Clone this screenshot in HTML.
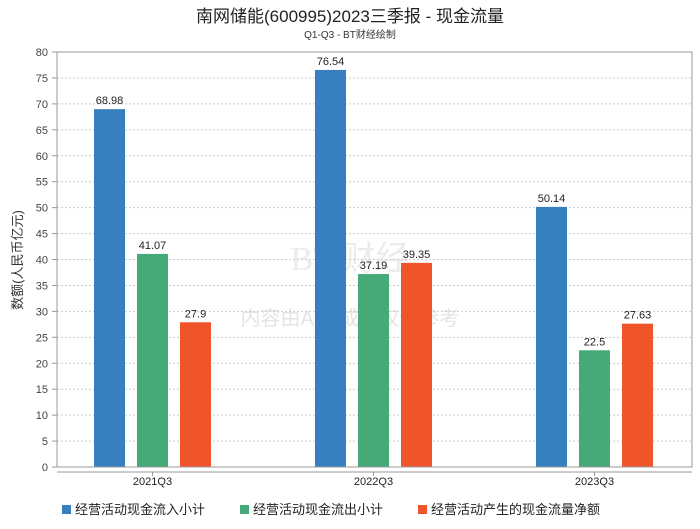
<!DOCTYPE html>
<html><head><meta charset="utf-8"><style>
body{margin:0;background:#fff;width:700px;height:524px;overflow:hidden;font-family:"Liberation Sans","Noto Sans CJK SC",sans-serif}
</style></head><body>
<svg id="chart" width="700" height="524" xmlns="http://www.w3.org/2000/svg" font-family="Liberation Sans, Noto Sans CJK SC, sans-serif">
<text x="350" y="22" text-anchor="middle" font-size="17" fill="#222">南网储能(600995)2023三季报 - 现金流量</text>
<text x="350" y="38" text-anchor="middle" font-size="10" fill="#333">Q1-Q3 - BT财经绘制</text>
<text transform="translate(22,260) rotate(-90)" text-anchor="middle" font-size="13" fill="#333">数额(人民币亿元)</text>
<text x="350" y="325" text-anchor="middle" font-size="20" fill="#e4e4e4">内容由AI生成，仅供参考</text>
<text x="350" y="270" text-anchor="middle" font-size="34" fill="#ececec" font-family="Liberation Serif, serif">BT 财经</text>
<g id="grid"></g><g id="bars"></g><g id="axes"></g>
<g font-size="13" fill="#222">
<rect x="62" y="505" width="9" height="9" fill="#3680c0"/><text x="75" y="514">经营活动现金流入小计</text>
<rect x="240" y="505" width="9" height="9" fill="#45a978"/><text x="253" y="514">经营活动现金流出小计</text>
<rect x="418" y="505" width="9" height="9" fill="#f0542a"/><text x="431" y="514">经营活动产生的现金流量净额</text>
</g>
</svg>
<script>
const categories=["2021Q3","2022Q3","2023Q3"];
const inflow=[68.98,76.54,50.14];
const outflow=[41.07,37.19,22.5];
const net=[27.9,39.35,27.63];
const yTicks=[0,5,10,15,20,25,30,35,40,45,50,55,60,65,70,75,80];
const NS="http://www.w3.org/2000/svg";
const L=57,R=692,T=52,B=467;
const y=v=>B-(v/80)*(B-T);
const xc=i=>152.5+i*221;
function mk(tag,attrs,parent,txt){const e=document.createElementNS(NS,tag);for(const k in attrs)e.setAttribute(k,attrs[k]);if(txt!==undefined)e.textContent=txt;document.getElementById(parent).appendChild(e);return e;}
yTicks.forEach(t=>{
 const g=mk('line',{x1:L,x2:R,y1:y(t),y2:y(t),stroke:'#ccc','stroke-dasharray':'2,2'},'grid');
 
 
 const lb=mk('text',{x:L-9,y:y(t)+4,'text-anchor':'end','font-size':11,fill:'#444'},'axes',String(t));
 
 
 mk('line',{x1:L-5,x2:L,y1:y(t),y2:y(t),stroke:'#999'},'axes');
});
mk('rect',{x:L,y:T,width:R-L,height:B-T,fill:'none',stroke:'#999'},'axes');
mk('line',{x1:L,x2:R,y1:B+5,y2:B+5,stroke:'#999'},'axes');
const series=[[inflow,'#3680c0','inflow'],[outflow,'#45a978','outflow'],[net,'#f0542a','net']];
categories.forEach((c,i)=>{
 const cl=mk('text',{x:xc(i),y:485,'text-anchor':'middle','font-size':11,fill:'#222'},'axes',c);
 
 
 mk('line',{x1:xc(i),x2:xc(i),y1:B+5,y2:B+9,stroke:'#999'},'axes');
 series.forEach((s,j)=>{
  const v=s[0][i],cx=xc(i)+(j-1)*43;
  const r=mk('rect',{x:cx-15.5,y:y(v),width:31,height:B-y(v),fill:s[1]},'bars');
  
  
  const t=mk('text',{x:cx,y:y(v)-5,'text-anchor':'middle','font-size':11,fill:'#222'},'bars',String(v));
  
  
 });
});
</script>
</body></html>
